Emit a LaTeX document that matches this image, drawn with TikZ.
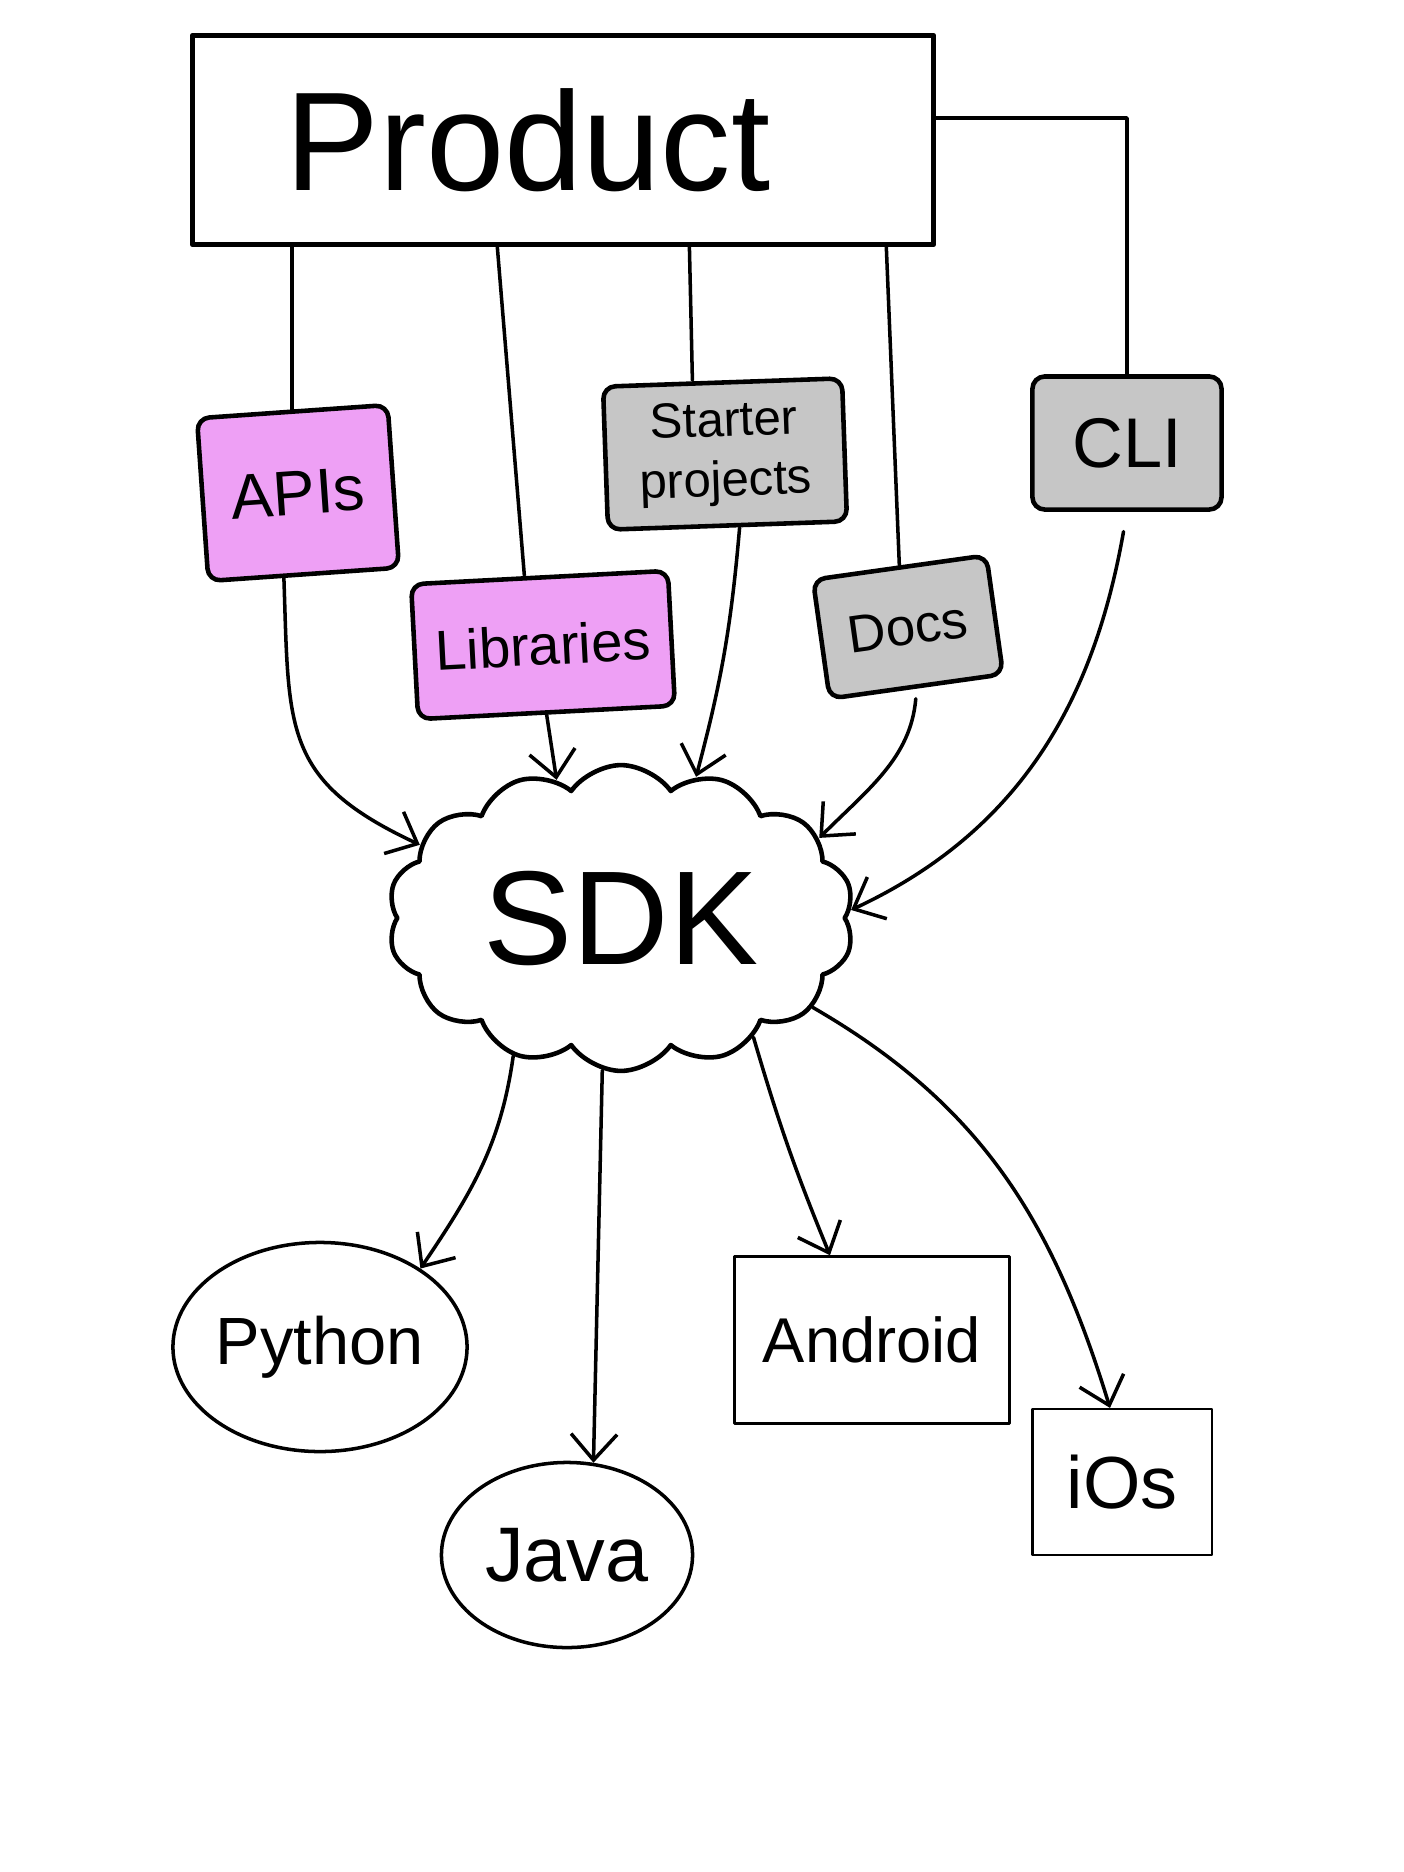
\documentclass[tikz,border=0pt]{standalone}
\usepackage{fontspec}
\setmainfont{Liberation Sans}
\usetikzlibrary{arrows.meta,shapes.geometric,shapes.symbols}
\definecolor{pink}{RGB}{238,160,245}
\definecolor{grey}{RGB}{198,198,198}
\newcommand{\fs}[1]{\fontsize{#1}{#1}\selectfont}

\begin{document}
\begin{tikzpicture}[x=0.01cm,y=-0.01cm,line cap=round,line join=round]
\tikzstyle{T}=[draw,line width=1.3pt,rounded corners=3.5pt,align=center,inner sep=0pt]
\tikzstyle{P}=[T,fill=pink]
\tikzstyle{G}=[T,fill=grey]
\tikzstyle{L}=[draw,line width=1pt,align=center,inner sep=0pt]
\tikzstyle{A}=[-{Straight Barb[length=2.6mm,width=4.6mm]},line width=1pt]
\fill[white] (0,0) rectangle (1404,1872);
\useasboundingbox (0,0) rectangle (1404,1872);
\node[draw,line width=1.4pt,minimum width=7.41cm,minimum height=2.09cm,font=\fs{40}] (prod) at (563,140) {Product\hspace*{0.7cm}};
\node[P,rotate=4,minimum width=1.91cm,minimum height=1.63cm,font=\fs{18}] (api) at (298,493) {APIs};
\node[P,rotate=3,minimum width=2.57cm,minimum height=1.35cm,font=\fs{16}] (lib) at (543,645) {Libraries};
\node[G,rotate=2,minimum width=2.39cm,minimum height=1.43cm,font=\fontsize{14}{17}\selectfont] (sp) at (725,454) {Starter\\projects};
\node[G,rotate=8,minimum width=1.75cm,minimum height=1.2cm,font=\fs{15}] (doc) at (908,627) {Docs};
\node[G,minimum width=1.89cm,minimum height=1.33cm,font=\fs{20}] (cli) at (1127,443) {CLI};
\node[cloud,draw,line width=1.3pt,cloud puffs=14,cloud puff arc=110,aspect=1.6,
  minimum width=4.66cm,minimum height=2.89cm,font=\fs{38}] (sdk) at (621,918) {SDK};
\node[L,ellipse,minimum width=2.81cm,minimum height=2.09cm,font=\fs{19}] (py) at (320,1347) {Python};
\node[L,ellipse,minimum width=2.51cm,minimum height=1.85cm,font=\fs{22}] (jv) at (567,1555) {Java};
\node[L,line width=.7pt,minimum width=2.75cm,minimum height=1.67cm,font=\fs{18}] (and) at (872,1340) {Android};
\node[L,line width=.6pt,minimum width=1.79cm,minimum height=1.46cm,font=\fs{21}] (ios) at (1122,1482) {iOs};
% product lines
\draw[line width=1pt] (api.north |- prod.south) -- (api.north);
\draw[line width=1pt] ([xshift=-0.42cm]lib.north |- prod.south) -- ([xshift=-0.15cm]lib.north);
\draw[line width=1pt] ([xshift=-0.33cm]sp.north |- prod.south) -- ([xshift=-0.3cm]sp.north);
\draw[line width=1pt] ([xshift=-0.13cm]doc.north |- prod.south) -- (doc.north);
\draw[line width=1pt] ([yshift=0.22cm]prod.east) -| (cli.north);
% into the sdk
\draw[A] ([xshift=-0.2cm]api.south) to[out=-88,in=155,looseness=1.3] (sdk.160);
\draw[A] (lib.south) -- (sdk.115);
\draw[A] ([xshift=0.12cm]sp.south) to[bend left=5] (sdk.62);
\draw[A,shorten <=0.1cm] (doc.south) to[out=-95,in=45] (sdk.22);
\draw[A,shorten <=0.2cm] (cli.south) to[out=-100,in=25] (sdk.2);
% out of the sdk
\draw[A] (sdk.232) to[out=-98,in=56] (py.38);
\draw[A] (sdk.263) -- (jv.74);
\draw[A] (sdk.318) to[bend right=3] ([xshift=-0.42cm]and.north);
\draw[A] (sdk.335) to[out=-30,in=107] ([xshift=-0.12cm]ios.north);
\end{tikzpicture}
\end{document}
